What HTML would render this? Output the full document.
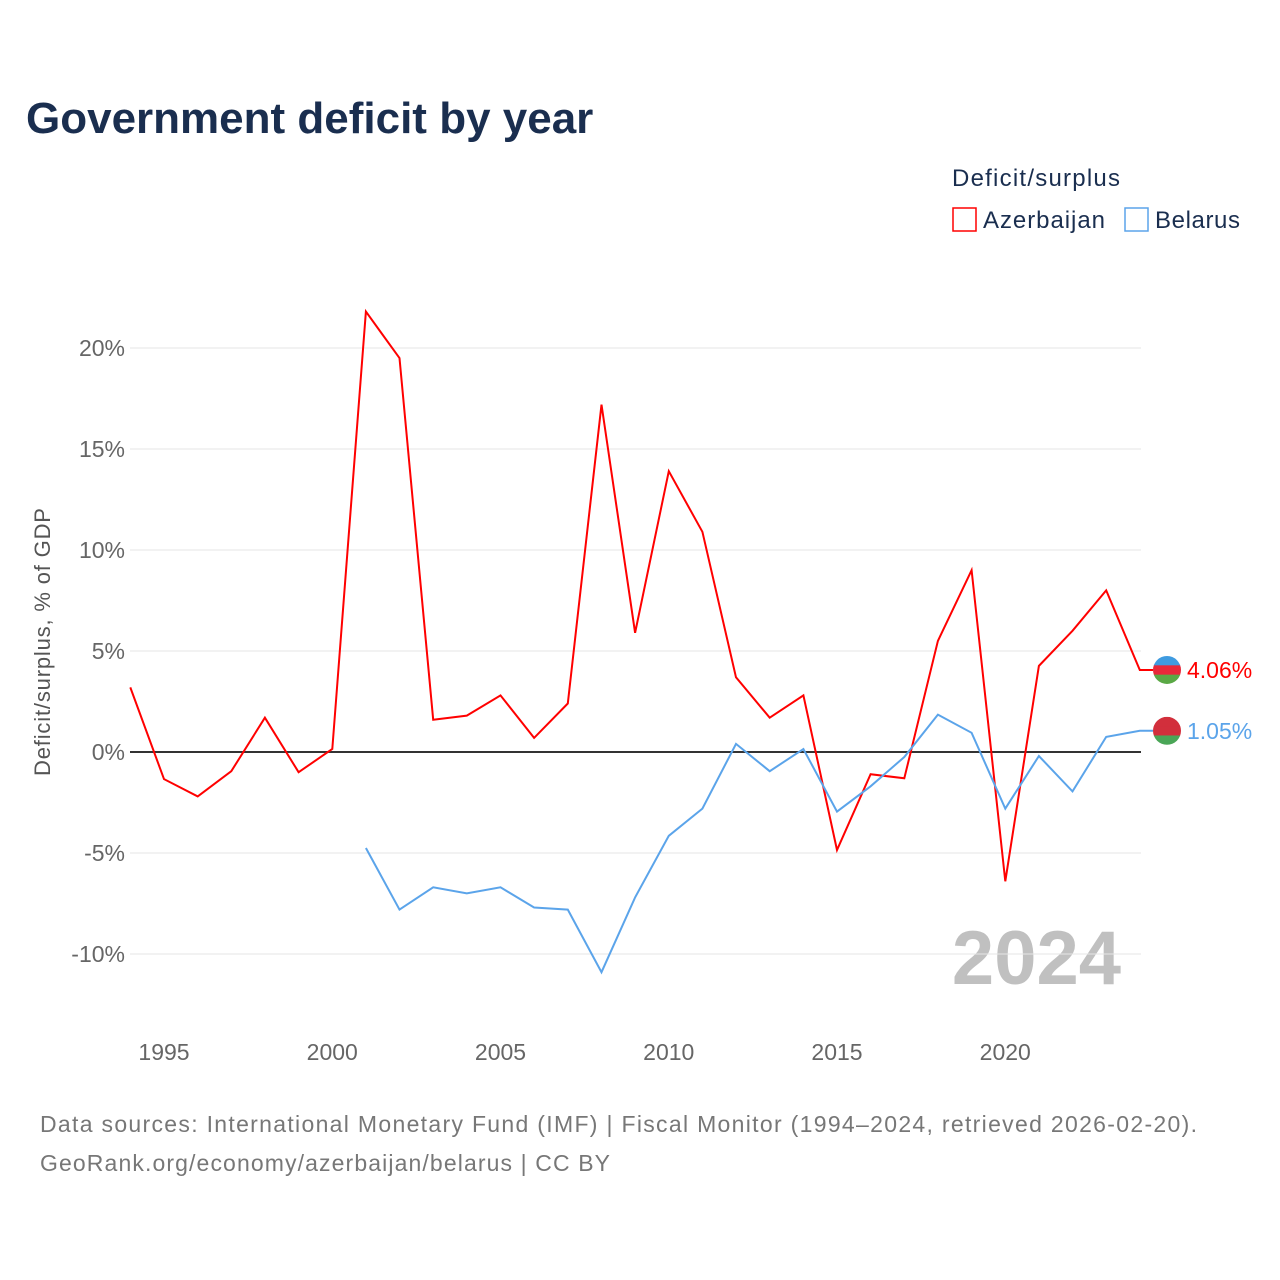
<!DOCTYPE html>
<html><head><meta charset="utf-8">
<style>
html,body{margin:0;padding:0;background:#fff;}
body{width:1280px;height:1280px;position:relative;font-family:"Liberation Sans",sans-serif;overflow:hidden;}
</style></head>
<body>
<svg id="chart" width="1280" height="1280" xmlns="http://www.w3.org/2000/svg" style="position:absolute;left:0;top:0;font-family:'Liberation Sans',sans-serif">
<text x="26" y="133" font-size="44" font-weight="bold" fill="#1a2e4f">Government deficit by year</text>
<text x="952" y="186" font-size="24" fill="#1a2e4f" textLength="168">Deficit/surplus</text>
<g>
<rect x="953" y="208" width="23" height="23" fill="none" stroke="#ff0000" stroke-width="1.5"/>
<text x="983" y="228" font-size="24" fill="#1a2e4f" textLength="122">Azerbaijan</text></g>
<g>
<rect x="1125" y="208" width="23" height="23" fill="none" stroke="#5ba4ea" stroke-width="1.5"/>
<text x="1155" y="228" font-size="24" fill="#1a2e4f" textLength="85">Belarus</text></g>
<text transform="translate(50,642) rotate(-90)" text-anchor="middle" font-size="22" fill="#555" textLength="268">Deficit/surplus, % of GDP</text>
<text x="1121" y="984" text-anchor="end" font-size="76" font-weight="bold" fill="#c0c0c0">2024</text>
<g id="grid"></g><g id="series"></g>
<text x="40" y="1132" font-size="23" fill="#777" textLength="1157">Data sources: International Monetary Fund (IMF) | Fiscal Monitor (1994–2024, retrieved 2026-02-20).</text>
<text x="40" y="1171" font-size="23" fill="#777" textLength="570">GeoRank.org/economy/azerbaijan/belarus | CC BY</text>
</svg>
<script>
const years=[1994,1995,1996,1997,1998,1999,2000,2001,2002,2003,2004,2005,2006,2007,2008,2009,2010,2011,2012,2013,2014,2015,2016,2017,2018,2019,2020,2021,2022,2023,2024];
const azerbaijan=[3.2,-1.34,-2.2,-0.95,1.7,-1.0,0.15,21.8,19.5,1.6,1.8,2.8,0.7,2.4,17.2,5.9,13.9,10.9,3.7,1.7,2.8,-4.85,-1.1,-1.3,5.5,9.0,-6.4,4.26,6.0,8.0,4.06];
const belarus=[null,null,null,null,null,null,null,-4.75,-7.8,-6.7,-7.0,-6.7,-7.7,-7.8,-10.9,-7.2,-4.15,-2.8,0.4,-0.95,0.15,-2.95,-1.7,-0.25,1.85,0.95,-2.8,-0.2,-1.95,0.75,1.05];
const yTicks=[20,15,10,5,0,-5,-10];
const xTicks=[1995,2000,2005,2010,2015,2020];
const X=y=>164+(y-1995)*33.65;
const Y=v=>752-v*20.2;
const NS="http://www.w3.org/2000/svg";
function mk(tag,attrs,parent){const e=document.createElementNS(NS,tag);for(const k in attrs)e.setAttribute(k,attrs[k]);parent.appendChild(e);return e;}
const grid=document.getElementById('grid'),series=document.getElementById('series');
yTicks.forEach(t=>{
 const l=mk('line',{x1:130,x2:1141,y1:Y(t),y2:Y(t),stroke:t===0?'#333':'#e6e6e6','stroke-width':t===0?2:1},grid);
 
 
 const tx=mk('text',{x:125,y:Y(t)+8,'text-anchor':'end','font-size':23,fill:'#666'},grid);
 tx.textContent=t+'%';
 
 
});
xTicks.forEach(t=>{
 const tx=mk('text',{x:X(t),y:1060,'text-anchor':'middle','font-size':23,fill:'#666'},grid);
 tx.textContent=t;
 
 
});
function draw(vals,color,name){
 let d='';let last=null;
 vals.forEach((v,i)=>{if(v===null)return;d+=(d?'L':'M')+X(years[i]).toFixed(1)+','+Y(v).toFixed(1);last=v;});
 mk('path',{d:d+'L1153,'+Y(last).toFixed(1),fill:'none',stroke:color,'stroke-width':2},series);
 const p=series.lastChild;
 
 
 return last;
}
function flag(cy,cols,name,val,color){
 const g=mk('g',{},series);
 
 
 const id='c'+name;
 const cp=mk('clipPath',{id:id},g);mk('circle',{cx:1167,cy:cy,r:14},cp);
 const h=28/cols.length;
 cols.forEach((c,i)=>mk('rect',{x:1153,y:cy-14+i*h,width:28,height:h+0.5,fill:c,'clip-path':'url(#'+id+')'},g));
 const t=mk('text',{x:1187,y:cy+8,'font-size':23,fill:color},series);
 t.textContent=val.toFixed(2)+'%';
 
 
}
const aLast=draw(azerbaijan,'#ff0000','azerbaijan');
const bLast=draw(belarus,'#5ba4ea','belarus');
flag(Y(aLast),['#3f9be0','#e8283a','#5aa845'],'azerbaijan',aLast,'#ff0000');
flag(Y(bLast),['#d22f3c','#d22f3c','#4aa657'],'belarus',bLast,'#5ba4ea');
</script>
</body></html>
